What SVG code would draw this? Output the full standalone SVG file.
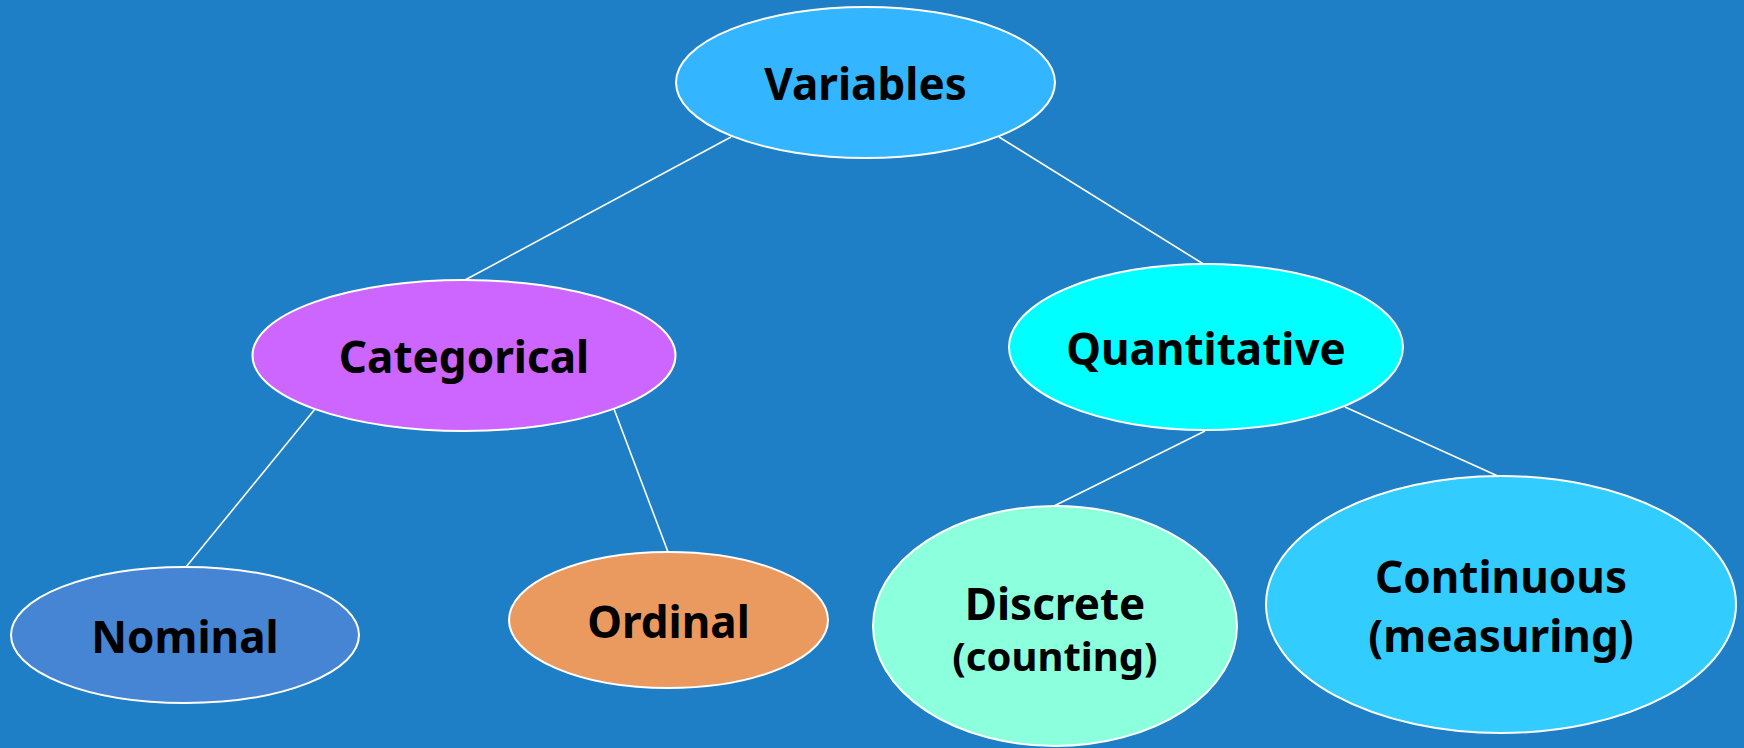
<svg xmlns="http://www.w3.org/2000/svg" width="1744" height="748" viewBox="0 0 1744 748">
<style>
.n{stroke:#ffffff;stroke-width:2}
.t{font-family:"Noto Sans","Open Sans","DejaVu Sans",sans-serif;font-weight:bold;font-size:44px;fill:#000;text-anchor:middle}
.c line{stroke:#ffffff;stroke-width:1.6}
</style>
<rect width="1744" height="748" fill="#1E7FC6"/>
<g id="connectors" class="c">
<line x1="731" y1="137" x2="465" y2="280"/>
<line x1="999" y1="137" x2="1205" y2="265"/>
<line x1="315" y1="409" x2="186" y2="567"/>
<line x1="614" y1="409" x2="668" y2="552"/>
<line x1="1205" y1="431" x2="1054" y2="506"/>
<line x1="1345" y1="407" x2="1500" y2="477"/>
</g>
<g id="variables"><ellipse class="n" cx="865.5" cy="82.5" rx="189.5" ry="75.5" fill="#33B5FF"/><text class="t" x="865.5" y="100">Variables</text></g>
<g id="categorical"><ellipse class="n" cx="464" cy="355.5" rx="211.5" ry="75.5" fill="#CC66FF"/><text class="t" x="464" y="373">Categorical</text></g>
<g id="quantitative"><ellipse class="n" cx="1206" cy="347" rx="197" ry="83" fill="#00FFFF"/><text class="t" x="1206" y="365">Quantitative</text></g>
<g id="nominal"><ellipse class="n" cx="185" cy="635" rx="174" ry="68" fill="#4684D4"/><text class="t" x="185" y="653">Nominal</text></g>
<g id="ordinal"><ellipse class="n" cx="668.5" cy="620" rx="159.5" ry="68" fill="#EB9A5F"/><text class="t" x="668.5" y="638">Ordinal</text></g>
<g id="discrete"><ellipse class="n" cx="1055" cy="626" rx="182" ry="120" fill="#8CFFDD"/><text class="t" x="1055" y="620">Discrete</text><text class="t" x="1055" y="671" style="font-size:40px">(counting)</text></g>
<g id="continuous"><ellipse class="n" cx="1501" cy="604.5" rx="235" ry="128.5" fill="#33CCFF"/><text class="t" x="1501" y="593">Continuous</text><text class="t" x="1501" y="652">(measuring)</text></g>
</svg>
